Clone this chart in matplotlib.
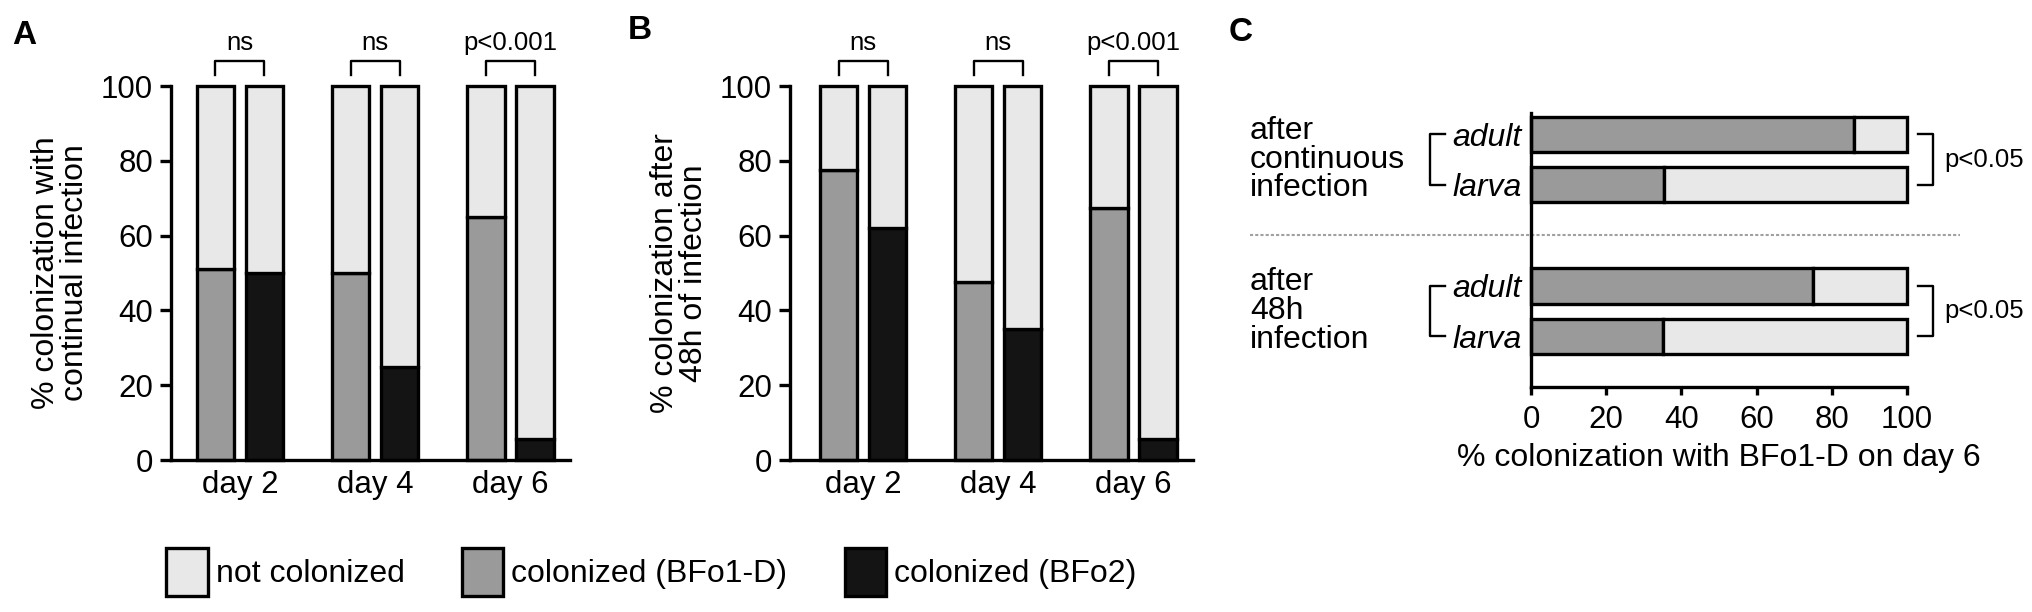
import numpy as np
import matplotlib.pyplot as plt
import matplotlib.transforms as mtransforms
from matplotlib.patches import Patch

plt.rcParams['font.family'] = ['Liberation Sans', 'DejaVu Sans']

# panels A and B: % colonized per day
days = ['day 2', 'day 4', 'day 6']
a_bfo1d = [51, 50, 65]
a_bfo2 = [50, 25, 5.5]
b_bfo1d = [77.5, 47.5, 67.5]
b_bfo2 = [62, 35, 5.5]
sig_a = ['ns', 'ns', 'p<0.001']
sig_b = ['ns', 'ns', 'p<0.001']

# panel C: % colonized with BFo1-D on day 6
c_groups = ['after\ncontinuous\ninfection', 'after\n48h\ninfection']
c_stages = ['adult', 'larva']
c_bfo1d = [[86, 35.5], [75, 35]]
c_sig = ['p<0.05', 'p<0.05']

legend_labels = ['not colonized', 'colonized (BFo1-D)', 'colonized (BFo2)']

LIGHT = '#e8e8e8'
MID = '#9a9a9a'
DARK = '#141414'
LW = 2.4
W, H = 2033, 612

fig = plt.figure(figsize=(W / 100, H / 100), dpi=100)


def px_axes(l, t, r, b):
    return fig.add_axes([l / W, 1 - b / H, (r - l) / W, (b - t) / H])


def stacked(ax, first, second, ylabel, sig, xmin):
    x = np.arange(len(days))
    off = 0.181
    bw = 0.275
    for xs, vals, col in ((x - off, first, MID), (x + off, second, DARK)):
        vals = np.array(vals, dtype=float)
        ax.bar(xs, vals, bw, color=col, edgecolor='k', lw=LW, clip_on=False, zorder=2)
        ax.bar(xs, 100 - vals, bw, bottom=vals, color=LIGHT, edgecolor='k', lw=LW,
               clip_on=False, zorder=2)
    for xi, s in zip(x, sig):
        ax.plot([xi - off, xi - off, xi + off, xi + off], [103, 106.7, 106.7, 103],
                color='k', lw=1.7, clip_on=False)
        ax.text(xi, 109.5, s, ha='center', va='baseline', fontsize=18.5)
    ax.set_xlim(xmin, 2.44)
    ax.set_ylim(0, 100)
    ax.set_xticks(x)
    ax.set_xticklabels(days)
    ax.set_yticks(np.arange(0, 101, 20))
    ax.set_ylabel(ylabel, fontsize=23, labelpad=8, linespacing=0.95)
    for s in ['top', 'right']:
        ax.spines[s].set_visible(False)
    for s in ['left', 'bottom']:
        ax.spines[s].set_linewidth(LW)
    ax.tick_params(axis='y', length=8, width=LW, labelsize=22.5, pad=5)
    ax.tick_params(axis='x', length=0, labelsize=22.5, pad=7)


ax_a = px_axes(171, 86, 570, 460)
stacked(ax_a, a_bfo1d, a_bfo2, '% colonization with\ncontinual infection', sig_a, -0.51)
ax_b = px_axes(790, 86, 1193, 460)
stacked(ax_b, b_bfo1d, b_bfo2, '% colonization after\n48h of infection', sig_b, -0.54)

# panel C
ax_c = px_axes(1531, 113, 1907, 387)
ypos = [[5, 4], [2, 1]]
bh = 0.70
for g in range(len(c_groups)):
    for k in range(len(c_stages)):
        v = c_bfo1d[g][k]
        y = ypos[g][k]
        ax_c.barh(y, v, bh, color=MID, edgecolor='k', lw=LW, clip_on=False, zorder=2)
        ax_c.barh(y, 100 - v, bh, left=v, color=LIGHT, edgecolor='k', lw=LW,
                  clip_on=False, zorder=2)
ax_c.set_xlim(0, 100)
ax_c.set_ylim(0, 5.42)
ax_c.set_yticks([y for row in ypos for y in row])
ax_c.set_yticklabels(c_stages * len(c_groups), fontstyle='italic', fontsize=23)
ax_c.set_xticks(np.arange(0, 101, 20))
ax_c.tick_params(axis='x', length=6, width=LW, labelsize=22.5, pad=7)
ax_c.tick_params(axis='y', length=0, pad=7)
ax_c.set_xlabel('% colonization with BFo1-D on day 6', fontsize=23, labelpad=6)
for s in ['top', 'right']:
    ax_c.spines[s].set_visible(False)
for s in ['left', 'bottom']:
    ax_c.spines[s].set_linewidth(LW)

ax_c.plot([-74.7, 114], [3, 3], color='#a0a0a0', lw=1.5, ls=(0, (1.5, 1)), clip_on=False)
blend = mtransforms.blended_transform_factory(fig.transFigure, ax_c.transData)
for g, label in enumerate(c_groups):
    top, bot = ypos[g]
    mid = (top + bot) / 2
    ax_c.text(1250 / W, mid, label, transform=blend, ha='left', va='center',
              fontsize=23, linespacing=0.95)
    ax_c.plot([-22.9, -26.9, -26.9, -22.9], [top, top, bot, bot], color='k', lw=1.7,
              clip_on=False)
    ax_c.plot([102.9, 106.9, 106.9, 102.9], [top, top, bot, bot], color='k', lw=1.7,
              clip_on=False)
    ax_c.text(110, mid, c_sig[g], ha='left', va='center', fontsize=18.5)

# panel letters
fig.text(12 / W, 1 - 20 / H, 'A', fontsize=24, fontweight='bold', va='top')
fig.text(628 / W, 1 - 15 / H, 'B', fontsize=24, fontweight='bold', va='top')
fig.text(1229 / W, 1 - 17 / H, 'C', fontsize=24, fontweight='bold', va='top')

handles = [Patch(facecolor=c, edgecolor='k', lw=LW) for c in (LIGHT, MID, DARK)]
fig.legend(handles, legend_labels, loc='center left', bbox_to_anchor=(166 / W, 1 - 572 / H),
           ncol=3, frameon=False, fontsize=23, handlelength=1.3, handleheight=1.9,
           handletextpad=0.25, columnspacing=1.8, borderpad=0, borderaxespad=0)

fig.savefig('out.png', dpi=100)
